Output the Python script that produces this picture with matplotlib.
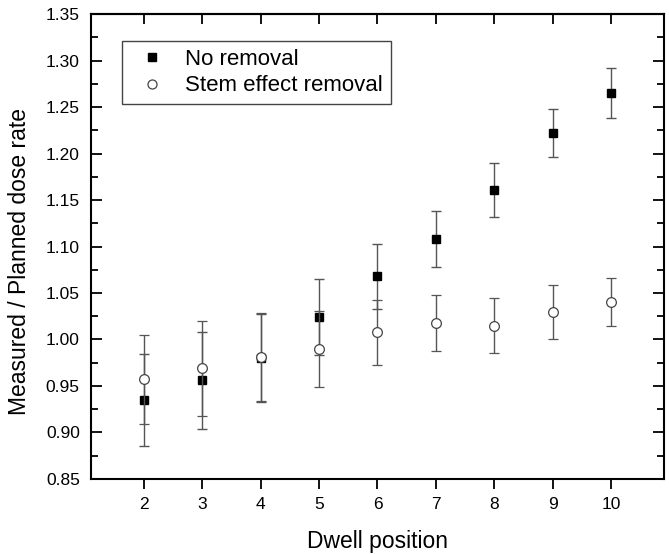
#!/usr/bin/env python3
"""Measured / planned dose rate vs dwell position (errorbar plot)."""

import matplotlib
matplotlib.use('Agg')
import matplotlib.pyplot as plt
from matplotlib.lines import Line2D
from matplotlib.ticker import MultipleLocator, FormatStrFormatter

plt.rcParams['font.family'] = ['Liberation Sans', 'DejaVu Sans']

# ── data ────────────────────────────────────────────────
dwell_position = [2, 3, 4, 5, 6, 7, 8, 9, 10]

no_removal = [0.935, 0.956, 0.980, 1.024, 1.068, 1.108, 1.161, 1.222, 1.265]
no_removal_err = [0.049, 0.052, 0.047, 0.041, 0.035, 0.030, 0.029, 0.026, 0.027]

stem_removal = [0.957, 0.969, 0.981, 0.990, 1.008, 1.018, 1.015, 1.030, 1.040]
stem_removal_err = [0.048, 0.051, 0.047, 0.041, 0.035, 0.030, 0.030, 0.029, 0.026]

# ── figure ──────────────────────────────────────────────
fig = plt.figure(figsize=(6.69, 5.54), dpi=100)
ax = fig.add_axes([0.136, 0.1354, 0.8565, 0.8393])

err_kw = dict(ecolor='#555555', elinewidth=1.0, capsize=3.5, capthick=1.0,
              linestyle='none')

ax.errorbar(dwell_position, no_removal, yerr=no_removal_err, fmt='s',
            ms=5.6, mfc='black', mec='black', zorder=3, **err_kw)
ax.errorbar(dwell_position, stem_removal, yerr=stem_removal_err, fmt='o',
            ms=7, mfc='white', mec='#444444', mew=0.9, zorder=4, **err_kw)

ax.set_xlim(1.1, 10.9)
ax.set_ylim(0.85, 1.35)
ax.set_xticks(dwell_position)
ax.yaxis.set_major_locator(MultipleLocator(0.05))
ax.yaxis.set_minor_locator(MultipleLocator(0.025))
ax.yaxis.set_major_formatter(FormatStrFormatter('%.2f'))

for s in ax.spines.values():
    s.set_linewidth(1.5)

ax.tick_params(axis='x', which='major', direction='out', length=7, width=1.3,
               labelsize=12.5, pad=6)
ax.yaxis.set_ticks_position('both')
ax.tick_params(axis='y', which='major', direction='in', length=8, width=1.3,
               labelsize=12.5, pad=8)
ax.tick_params(axis='y', which='minor', direction='in', length=5, width=1.3)

top = ax.secondary_xaxis('top')
top.set_xticks(dwell_position)
top.tick_params(axis='x', direction='in', length=7, width=1.3, labeltop=False)
top.spines['top'].set_linewidth(1.5)

ax.set_xlabel('Dwell position', fontsize=16.5, labelpad=13)
ax.set_ylabel('Measured / Planned dose rate', fontsize=16.5)
ax.yaxis.set_label_coords(-0.105, 0.468)

handles = [
    Line2D([], [], ls='none', marker='s', ms=6, mfc='black', mec='black'),
    Line2D([], [], ls='none', marker='o', ms=6.5, mfc='white',
           mec='#444444', mew=0.9),
]
leg = ax.legend(handles, ['No removal', 'Stem effect removal'],
                loc='upper left', bbox_to_anchor=(0.054, 0.942),
                borderaxespad=0, numpoints=1, fontsize=16,
                fancybox=False, edgecolor='#444444', framealpha=1,
                handletextpad=0.5, labelspacing=0.25, borderpad=0.35)
leg.get_frame().set_linewidth(1.0)

fig.savefig('out.png', dpi=100, facecolor='white')
plt.close(fig)
